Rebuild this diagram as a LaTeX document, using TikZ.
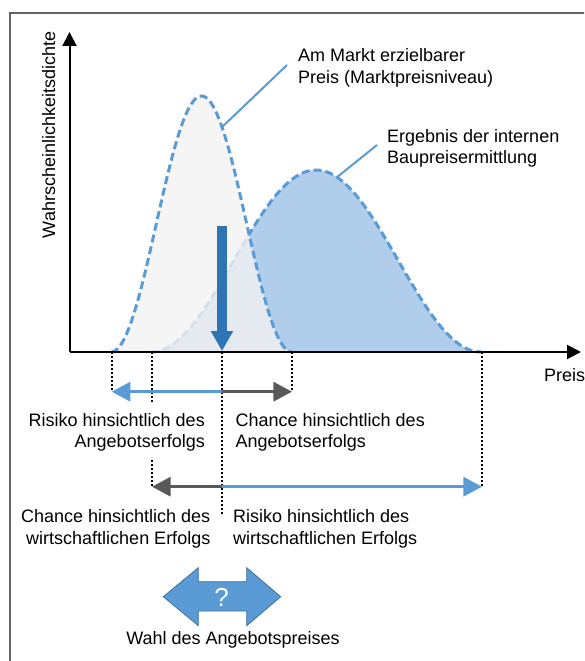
\documentclass[tikz,border=0pt]{standalone}
\usepackage{fontspec}
\setmainfont{Liberation Sans}
\usetikzlibrary{arrows.meta}
\definecolor{mblue}{RGB}{91,155,213}
\definecolor{dblue}{RGB}{46,117,182}
\definecolor{dgray}{RGB}{89,89,89}
\definecolor{ifill}{RGB}{176,206,236}
\definecolor{mfill}{RGB}{242,242,242}
\definecolor{bordblue}{RGB}{65,113,156}
\definecolor{framegray}{RGB}{100,100,100}
\begin{document}
\begin{tikzpicture}[x=1pt,y=-1pt,
  declare function={mk(\x)=352-128*(1+cos((\x-201.5)*1.98895));
                    ik(\x)=352-91*(1+cos((\x-316)*1.090909));},
  lbl/.style={font=\fontsize{18}{21.7}\selectfont, inner sep=0pt},
  curveline/.style={mblue, line width=3pt, dash pattern=on 8pt off 4pt},
  guide/.style={black, line width=1.8pt, dash pattern=on 1.8pt off 2.2pt},
  bluearr/.style={mblue, line width=3.3pt, -{Triangle[length=18.6pt,width=19pt]}},
  grayarr/.style={dgray, line width=3.3pt, -{Triangle[length=18.6pt,width=19pt]}},
  axisline/.style={black, line width=2pt, -{Triangle[length=14pt,width=14pt]}},
  leader/.style={mblue, line width=2pt}]
\useasboundingbox (0,0) rectangle (584,661);
\clip (0,0) rectangle (584,661);
\draw[framegray, line width=1.5pt] (10,13) rectangle (640,720);

% internal price estimate
\fill[ifill] plot[domain=151:481, samples=150, smooth] (\x,{ik(\x)}) -- cycle;
\draw[curveline] plot[domain=151:481, samples=150, smooth] (\x,{ik(\x)});
% market price
\fill[mfill, opacity=0.8] plot[domain=111:292, samples=120, smooth] (\x,{mk(\x)}) -- cycle;
\draw[curveline] plot[domain=111:292, samples=120, smooth] (\x,{mk(\x)});

% axes
\coordinate (O) at (69.5,352);
\coordinate (ytop) at (69.5,32);
\coordinate (xend) at (581,352);
\draw[axisline] (O) -- (ytop);
\draw[axisline] (O) -- (xend);
\node[lbl, rotate=90, anchor=base] (ylab) at (55,135) {Wahrscheinlichkeitsdichte};
\node[lbl, anchor=base west] (xlab) at (544,381) {Preis};

% leaders and labels
\coordinate (mkpt) at (222,{mk(222)});
\coordinate (mkend) at (287,65);
\draw[leader] (mkpt) -- (mkend);
\node[lbl, anchor=west, align=left] (mklab) at (298,67.8) {Am Markt erzielbarer\\Preis (Marktpreisniveau)};
\coordinate (ikpt) at (337,{ik(337)});
\coordinate (ikend) at (377,145);
\draw[leader] (ikpt) -- (ikend);
\node[lbl, anchor=west, align=left] (iklab) at (387,148.3) {Ergebnis der internen\\Baupreisermittlung};

% chosen price arrow
\coordinate (bt) at (222,226);
\coordinate (bb) at (222,351);
\draw[dblue, line width=10.6pt, -{Triangle[length=20pt,width=21pt]}] (bt) -- (bb);

% guide lines
\coordinate (p1) at (111.7,352);
\coordinate (p2) at (152,352);
\coordinate (p3) at (222,352);
\coordinate (p4) at (292,352);
\coordinate (p5) at (482,352);
\coordinate (u1) at (111.7,391.7);
\coordinate (u3) at (222,391.7);
\coordinate (u4) at (292,391.7);
\coordinate (g2a) at (152,402);
\coordinate (g2b) at (152,460);
\coordinate (l2) at (152,486.7);
\coordinate (l3) at (222,486.7);
\coordinate (l5) at (482,486.7);
\coordinate (g3) at (222,515);
\draw[guide] (p1) -- (u1);
\draw[guide] (p2) -- (g2a);
\draw[guide] (g2b) -- (l2);
\draw[guide] (p3) -- (g3);
\draw[guide] (p4) -- (u4);
\draw[guide] (p5) -- (l5);

% range arrows
\draw[bluearr] (u3) -- (u1);
\draw[grayarr] (u3) -- (u4);
\draw[grayarr] (l3) -- (l2);
\draw[bluearr] (l3) -- (l5);

\node[lbl, anchor=east, align=right] (r1) at (205,432.3) {Risiko hinsichtlich des\\Angebotserfolgs};
\node[lbl, anchor=west, align=left] (c1) at (235.5,432.3) {Chance hinsichtlich des\\Angebotserfolgs};
\node[lbl, anchor=east, align=right] (c2) at (210.5,529) {Chance hinsichtlich des\\wirtschaftlichen Erfolgs};
\node[lbl, anchor=west, align=left] (r2) at (233,529) {Risiko hinsichtlich des\\wirtschaftlichen Erfolgs};

% choice double arrow
\filldraw[fill=mblue, draw=bordblue, line width=0.8pt]
  (163.3,596.7) -- (198.3,567.7) -- (198.3,581.7) -- (246.7,581.7) -- (246.7,567.7)
  -- (280.7,596.7) -- (246.7,625.7) -- (246.7,611) -- (198.3,611) -- (198.3,625.7) -- cycle;
\node[white, inner sep=0pt, font=\fontsize{26}{30}\selectfont] (q) at (221.5,597) {?};
\node[lbl, anchor=base] (wahl) at (233,644) {Wahl des Angebotspreises};
\end{tikzpicture}
\end{document}
